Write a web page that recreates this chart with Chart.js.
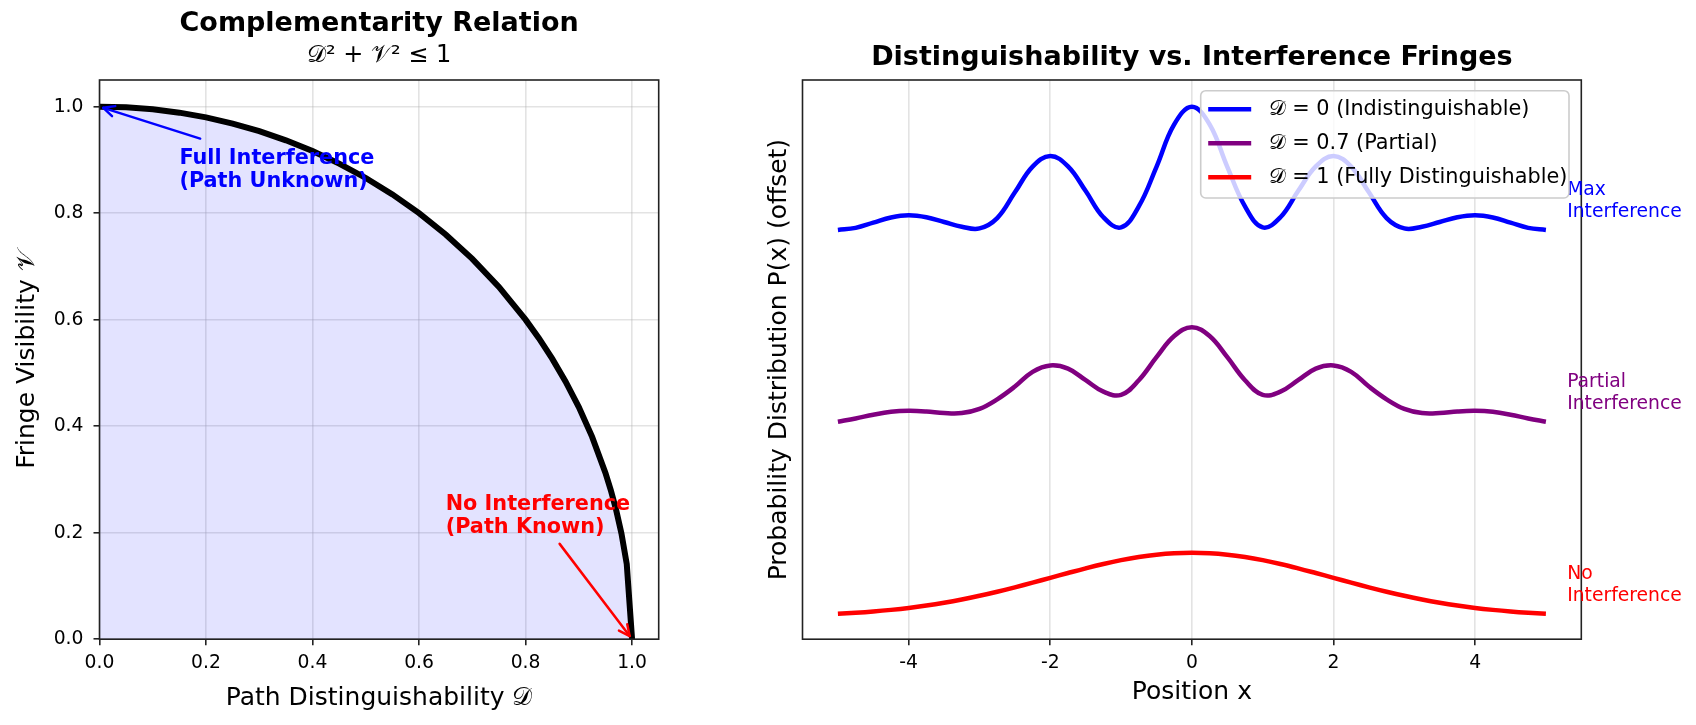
<!DOCTYPE html>
<html><head><meta charset="utf-8">
<script src="https://cdn.jsdelivr.net/npm/chart.js@4.4.0/dist/chart.umd.min.js"></script>
<style>
html,body{margin:0;padding:0;background:#fff;width:1696px;height:725px;overflow:hidden}
canvas{position:absolute;top:0}
#c1{left:0}
#c2{left:720px}
</style></head><body>
<canvas id="c1" width="720" height="725"></canvas>
<canvas id="c2" width="976" height="725"></canvas>
<script>
// ---------- data ----------
const distinguishability = [0, 0.05, 0.1, 0.15, 0.2, 0.25, 0.3, 0.35, 0.4, 0.45, 0.5, 0.55, 0.6, 0.65, 0.7, 0.75, 0.8, 0.825, 0.85, 0.875, 0.9, 0.925, 0.95, 0.96, 0.97, 0.98, 0.99, 1.0];
const visibility = [1, 0.99875, 0.99499, 0.98869, 0.97980, 0.96825, 0.95394, 0.93675, 0.91652, 0.89303, 0.86603, 0.83516, 0.8, 0.75993, 0.71414, 0.66144, 0.6, 0.56513, 0.52678, 0.48412, 0.43589, 0.37997, 0.31225, 0.28, 0.24310, 0.19900, 0.14107, 0];
const leftTicks = [0, 0.2, 0.4, 0.6, 0.8, 1.0];

const positions = [-5, -4.75, -4.5, -4.25, -4, -3.75, -3.5, -3.25, -3, -2.75, -2.5, -2.25, -2, -1.75, -1.5, -1.25, -1, -0.75, -0.5, -0.25, 0, 0.25, 0.5, 0.75, 1, 1.25, 1.5, 1.75, 2, 2.25, 2.5, 2.75, 3, 3.25, 3.5, 3.75, 4, 4.25, 4.5, 4.75, 5];
const probIndistinguishable = [6.05, 6.084, 6.165, 6.246, 6.28, 6.249, 6.175, 6.101, 6.075, 6.237, 6.64, 7.043, 7.21, 7.046, 6.66, 6.25, 6.09, 6.42, 7.04, 7.703, 7.98, 7.703, 7.04, 6.42, 6.09, 6.25, 6.66, 7.046, 7.21, 7.043, 6.64, 6.237, 6.075, 6.101, 6.175, 6.249, 6.28, 6.246, 6.165, 6.084, 6.05];
const probPartial = [3.05, 3.10, 3.16, 3.205, 3.22, 3.21, 3.185, 3.185, 3.25, 3.40, 3.60, 3.83, 3.93, 3.88, 3.70, 3.52, 3.47, 3.70, 4.06, 4.39, 4.53, 4.39, 4.06, 3.70, 3.47, 3.52, 3.70, 3.88, 3.93, 3.83, 3.60, 3.40, 3.25, 3.185, 3.185, 3.21, 3.22, 3.205, 3.16, 3.10, 3.05];
const probDistinguishable = [0.044, 0.060, 0.080, 0.105, 0.135, 0.172, 0.216, 0.267, 0.325, 0.389, 0.458, 0.531, 0.607, 0.682, 0.755, 0.823, 0.883, 0.932, 0.969, 0.992, 1.000, 0.992, 0.969, 0.932, 0.883, 0.823, 0.755, 0.682, 0.607, 0.531, 0.458, 0.389, 0.325, 0.267, 0.216, 0.172, 0.135, 0.105, 0.080, 0.060, 0.044];
const rightXTicks = [-4, -2, 0, 2, 4];
const seriesLabels = ['𝒟 = 0 (Indistinguishable)', '𝒟 = 0.7 (Partial)', '𝒟 = 1 (Fully Distinguishable)'];
const seriesColors = ['#0000ff', '#800080', '#ff0000'];
const sideLabels = [['Max', 'Interference'], ['Partial', 'Interference'], ['No', 'Interference']];
const sideLabelLevels = [6.5, 3.5, 0.5];

// ---------- styling ----------
const FONT = "'DejaVu Sans', sans-serif";
const AX = '#222222';
const GRID = 'rgba(176,176,176,0.35)';
Chart.defaults.font.family = FONT;
Chart.defaults.color = '#000';

const framePlugin = {
  id: 'frame',
  afterDatasetsDraw(chart) {
    const {ctx, chartArea: a} = chart;
    ctx.save();
    ctx.strokeStyle = AX; ctx.lineWidth = 1.6;
    ctx.strokeRect(a.left, a.top, a.right - a.left, a.bottom - a.top);
    ctx.restore();
  }
};

function drawArrow(ctx, x1, y1, x2, y2, color) {
  const ang = Math.atan2(y2 - y1, x2 - x1);
  const shrink = 4;
  const hx = x2 - shrink * Math.cos(ang), hy = y2 - shrink * Math.sin(ang);
  ctx.save();
  ctx.strokeStyle = color; ctx.lineWidth = 2.5; ctx.lineCap = 'round'; ctx.lineJoin = 'round';
  ctx.beginPath(); ctx.moveTo(x1, y1); ctx.lineTo(hx, hy); ctx.stroke();
  const L = 12, spread = 0.45;
  ctx.beginPath();
  ctx.moveTo(hx - L * Math.cos(ang - spread), hy - L * Math.sin(ang - spread));
  ctx.lineTo(hx, hy);
  ctx.lineTo(hx - L * Math.cos(ang + spread), hy - L * Math.sin(ang + spread));
  ctx.stroke();
  ctx.restore();
}

const annotatePlugin = {
  id: 'annot',
  afterDatasetsDraw(chart) {
    const {ctx, scales: {x, y}} = chart;
    drawArrow(ctx, x.getPixelForValue(0.189), y.getPixelForValue(0.94), x.getPixelForValue(0), y.getPixelForValue(1), '#0000ff');
    drawArrow(ctx, x.getPixelForValue(0.864), y.getPixelForValue(0.179), x.getPixelForValue(1), y.getPixelForValue(0), '#ff0000');
    ctx.save();
    ctx.font = "bold 20.8px " + FONT;
    ctx.textBaseline = 'alphabetic'; ctx.textAlign = 'left';
    ctx.fillStyle = '#0000ff';
    let bx = x.getPixelForValue(0.15), by = y.getPixelForValue(0.85);
    ctx.fillText('Full Interference', bx, by - 23);
    ctx.fillText('(Path Unknown)', bx, by);
    ctx.fillStyle = '#ff0000';
    bx = x.getPixelForValue(0.65); by = y.getPixelForValue(0.2);
    ctx.fillText('No Interference', bx, by - 23);
    ctx.fillText('(Path Known)', bx, by);
    ctx.restore();
  }
};

const sidePlugin = {
  id: 'side',
  afterDatasetsDraw(chart) {
    const {ctx, scales: {x, y}} = chart;
    ctx.save();
    ctx.font = "18.75px " + FONT;
    ctx.textAlign = 'left'; ctx.textBaseline = 'middle';
    sideLabels.forEach((lines, i) => {
      ctx.fillStyle = seriesColors[i];
      const px = x.getPixelForValue(5.3), py = y.getPixelForValue(sideLabelLevels[i]);
      ctx.fillText(lines[0], px, py - 11);
      ctx.fillText(lines[1], px, py + 11);
    });
    // legend
    const lx = 480.7, ly = 90.7, lw = 368.3, lh = 107.3, r = 5;
    ctx.beginPath();
    ctx.moveTo(lx + r, ly); ctx.lineTo(lx + lw - r, ly); ctx.arcTo(lx + lw, ly, lx + lw, ly + r, r);
    ctx.lineTo(lx + lw, ly + lh - r); ctx.arcTo(lx + lw, ly + lh, lx + lw - r, ly + lh, r);
    ctx.lineTo(lx + r, ly + lh); ctx.arcTo(lx, ly + lh, lx, ly + lh - r, r);
    ctx.lineTo(lx, ly + r); ctx.arcTo(lx, ly, lx + r, ly, r); ctx.closePath();
    ctx.fillStyle = 'rgba(255,255,255,0.8)'; ctx.fill();
    ctx.strokeStyle = '#cccccc'; ctx.lineWidth = 1.6; ctx.stroke();
    ctx.font = "20.8px " + FONT;
    chart.data.datasets.forEach((ds, i) => {
      const ry = ly + 18.5 + 34 * i;
      ctx.strokeStyle = ds.borderColor; ctx.lineWidth = 4.5;
      ctx.beginPath(); ctx.moveTo(lx + 7.5, ry); ctx.lineTo(lx + 50.5, ry); ctx.stroke();
      ctx.fillStyle = '#000';
      ctx.fillText(ds.label, lx + 68, ry);
    });
    ctx.restore();
  }
};

// ---------- left chart ----------
new Chart(document.getElementById('c1'), {
  type: 'line',
  data: {
    datasets: [{
      label: 'Boundary',
      data: distinguishability.map((d, i) => ({x: d, y: visibility[i]})),
      borderColor: '#000', borderWidth: 6, pointRadius: 0, tension: 0,
      fill: 'origin', backgroundColor: 'rgba(0,0,255,0.11)'
    }]
  },
  options: {
    responsive: false, animation: false, events: [],
    layout: {padding: {left: 0, right: 61.3, top: 0, bottom: 0}},
    plugins: {
      legend: {display: false}, tooltip: {enabled: false},
      title: {display: true, text: 'Complementarity Relation', fullSize: false, color: '#000',
        font: {family: FONT, size: 27, weight: 'bold', lineHeight: 1.2}, padding: {top: 8, bottom: 0}},
      subtitle: {display: true, text: '𝒟² + 𝒱² ≤ 1', fullSize: false, color: '#000',
        font: {family: FONT, size: 24, lineHeight: 1.2}, padding: {top: 1.2, bottom: 9.6}}
    },
    scales: {
      x: {
        type: 'linear', min: 0, max: 1.05,
        afterFit: s => { s.height = 85.8; },
        afterBuildTicks: s => { s.ticks = leftTicks.map(v => ({value: v})); },
        ticks: {callback: v => Number(v).toFixed(1), font: {size: 18.75}, color: '#000', padding: 6.5, maxRotation: 0, autoSkip: false},
        grid: {color: GRID, lineWidth: 1.6, drawTicks: true, tickLength: 6, tickColor: AX, tickWidth: 1.6},
        border: {display: false},
        title: {display: true, text: 'Path Distinguishability 𝒟', color: '#000', font: {size: 25, lineHeight: 1.2}, padding: {top: 0, bottom: 12}}
      },
      y: {
        type: 'linear', min: 0, max: 1.05,
        afterFit: s => { s.width = 99.5; },
        afterBuildTicks: s => { s.ticks = leftTicks.map(v => ({value: v})); },
        ticks: {callback: v => Number(v).toFixed(1), font: {size: 18.75}, color: '#000', padding: 10, autoSkip: false},
        grid: {color: GRID, lineWidth: 1.6, drawTicks: true, tickLength: 6, tickColor: AX, tickWidth: 1.6},
        border: {display: false},
        title: {display: true, text: 'Fringe Visibility 𝒱', color: '#000', font: {size: 25, lineHeight: 1.2}, padding: {top: 12, bottom: 0}}
      }
    }
  },
  plugins: [framePlugin, annotatePlugin]
});

// ---------- right chart ----------
const rightSeries = [probIndistinguishable, probPartial, probDistinguishable];
new Chart(document.getElementById('c2'), {
  type: 'line',
  data: {
    datasets: rightSeries.map((s, i) => ({
      label: seriesLabels[i],
      data: positions.map((p, j) => ({x: p, y: s[j]})),
      borderColor: seriesColors[i], borderWidth: 4.5, pointRadius: 0,
      tension: 0.4, fill: false
    }))
  },
  options: {
    responsive: false, animation: false, events: [],
    layout: {padding: {left: 0, right: 114.7, top: 0, bottom: 0}},
    plugins: {
      legend: {display: false}, tooltip: {enabled: false},
      title: {display: true, text: 'Distinguishability vs. Interference Fringes', fullSize: false, color: '#000',
        font: {family: FONT, size: 27, weight: 'bold', lineHeight: 1.2}, padding: {top: 42.2, bottom: 5.4}}
    },
    scales: {
      x: {
        type: 'linear', min: -5.5, max: 5.5,
        afterFit: s => { s.height = 85.8; },
        afterBuildTicks: s => { s.ticks = rightXTicks.map(v => ({value: v})); },
        ticks: {callback: v => String(v), font: {size: 18.75}, color: '#000', padding: 6.5, maxRotation: 0, autoSkip: false},
        grid: {color: GRID, lineWidth: 1.6, drawTicks: true, tickLength: 6, tickColor: AX, tickWidth: 1.6},
        border: {display: false},
        title: {display: true, text: 'Position x', color: '#000', font: {size: 25, lineHeight: 1.2}, padding: {top: 0, bottom: 18}}
      },
      y: {
        type: 'linear', min: -0.354, max: 8.398,
        afterFit: s => { s.width = 82.5; },
        ticks: {display: false},
        grid: {display: false},
        border: {display: false},
        title: {display: true, text: 'Probability Distribution P(x) (offset)', color: '#000', font: {size: 25, lineHeight: 1.2}, padding: {top: 44, bottom: 0}}
      }
    }
  },
  plugins: [framePlugin, sidePlugin]
});
</script>
</body></html>
